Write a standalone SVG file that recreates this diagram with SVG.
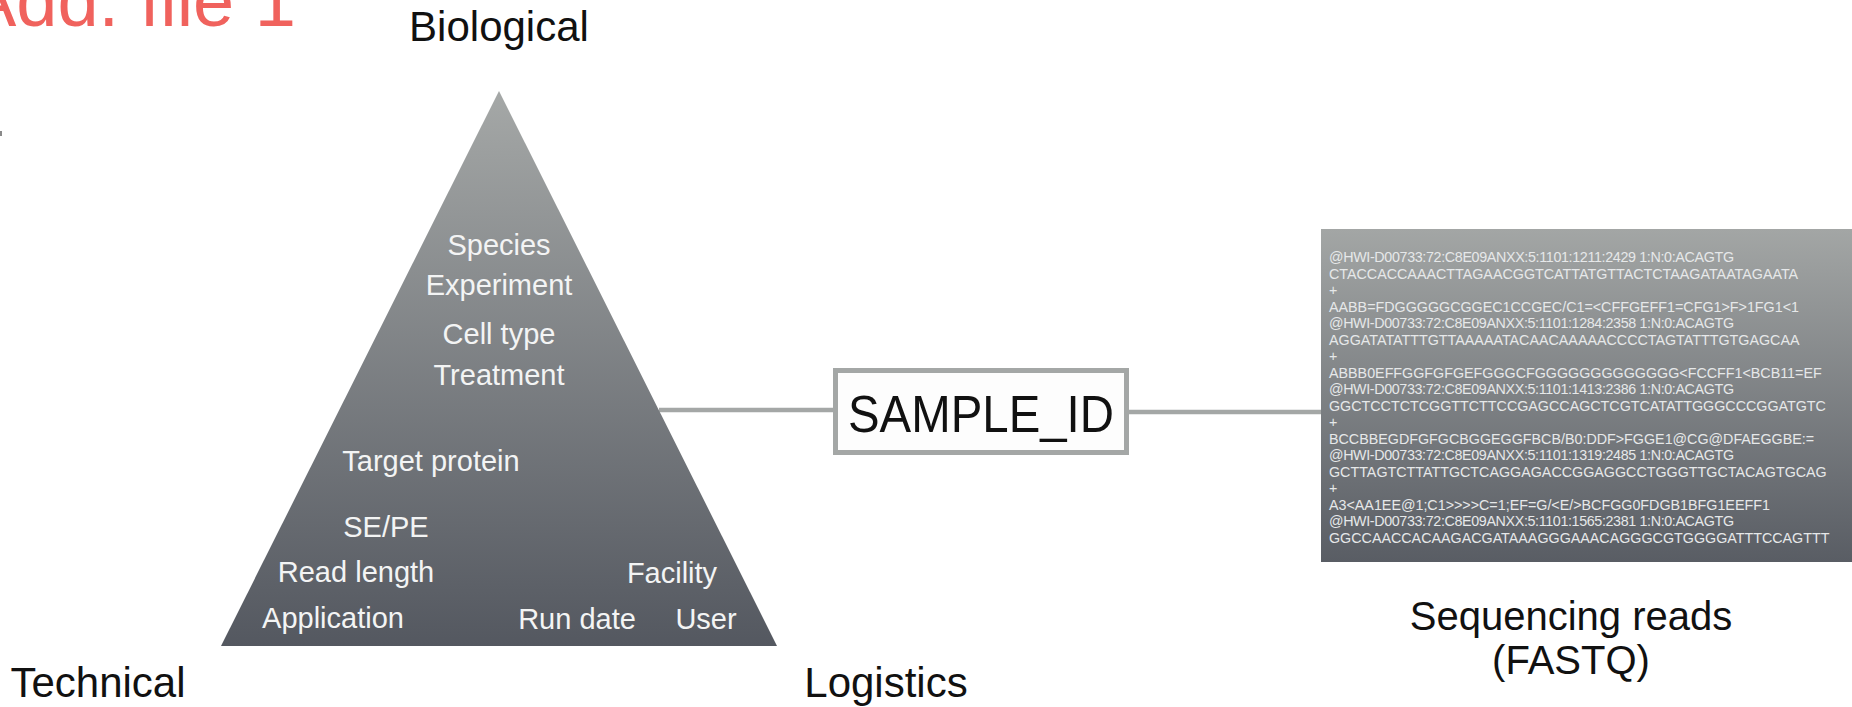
<svg xmlns="http://www.w3.org/2000/svg" width="1852" height="707" viewBox="0 0 1852 707">
<defs>
<linearGradient id="triGrad" x1="0" y1="0" x2="0" y2="1">
<stop offset="0" stop-color="#A5A8A7"/>
<stop offset="1" stop-color="#545860"/>
</linearGradient>
<linearGradient id="fqGrad" x1="0" y1="0" x2="0" y2="1">
<stop offset="0" stop-color="#A3A6A5"/>
<stop offset="1" stop-color="#595D64"/>
</linearGradient>
<style>
.lbl{font-family:"Liberation Sans",Arial,sans-serif;font-size:42px;fill:#111;}
.tri{font-family:"Liberation Sans",Arial,sans-serif;font-size:29px;fill:#F3F4F4;text-anchor:middle;}
.fq{font-family:"Liberation Sans",Arial,sans-serif;font-size:14.3px;fill:#E6E8E9;}
.conn{stroke:#A4A7A6;stroke-width:4.5;fill:none;}
</style>
</defs>
<rect width="1852" height="707" fill="#FFFFFF"/>

<g id="title">
<text x="296" y="26" text-anchor="end" font-family="Liberation Sans, Arial, sans-serif" font-size="74" fill="#F0625D">Add. file 1</text>
<rect x="0" y="131" width="2" height="5" fill="#8A8A8A"/>
</g>

<g id="connectors">
<line class="conn" x1="659" y1="410" x2="835" y2="410"/>
<line class="conn" x1="1127" y1="412" x2="1321" y2="412"/>
</g>

<g id="pyramid">
<polygon points="499,91 221,646 777,646" fill="url(#triGrad)"/>
<text class="tri" x="499" y="255">Species</text>
<text class="tri" x="499" y="295">Experiment</text>
<text class="tri" x="499" y="344">Cell type</text>
<text class="tri" x="499" y="385">Treatment</text>
<text class="tri" x="431" y="471">Target protein</text>
<text class="tri" x="386" y="537">SE/PE</text>
<text class="tri" x="356" y="582">Read length</text>
<text class="tri" x="333" y="628">Application</text>
<text class="tri" x="672" y="583">Facility</text>
<text class="tri" x="577" y="629">Run date</text>
<text class="tri" x="706" y="629">User</text>
</g>

<g id="axis-labels">
<text class="lbl" x="499" y="41" text-anchor="middle">Biological</text>
<text class="lbl" x="98" y="697" text-anchor="middle">Technical</text>
<text class="lbl" x="886" y="697" text-anchor="middle">Logistics</text>
</g>

<g id="sample_id">
<rect x="835.5" y="370.5" width="291" height="82" fill="#FDFDFD" stroke="#A4A7A6" stroke-width="5"/>
<text x="981" y="432" text-anchor="middle" font-family="Liberation Sans, Arial, sans-serif" font-size="51" fill="#111" textLength="266" lengthAdjust="spacingAndGlyphs">SAMPLE_ID</text>
</g>

<g id="fastq">
<rect x="1321" y="229" width="531" height="333" fill="url(#fqGrad)"/>
<text class="fq" x="1329" y="262" textLength="405">@HWI-D00733:72:C8E09ANXX:5:1101:1211:2429 1:N:0:ACAGTG</text>
<text class="fq" x="1329" y="278.5">CTACCACCAAACTTAGAACGGTCATTATGTTACTCTAAGATAATAGAATA</text>
<text class="fq" x="1329" y="295">+</text>
<text class="fq" x="1329" y="311.5">AABB=FDGGGGGCGGEC1CCGEC/C1=&lt;CFFGEFF1=CFG1&gt;F&gt;1FG1&lt;1</text>
<text class="fq" x="1329" y="328" textLength="405">@HWI-D00733:72:C8E09ANXX:5:1101:1284:2358 1:N:0:ACAGTG</text>
<text class="fq" x="1329" y="344.5">AGGATATATTTGTTAAAAATACAACAAAAACCCCTAGTATTTGTGAGCAA</text>
<text class="fq" x="1329" y="361">+</text>
<text class="fq" x="1329" y="377.5">ABBB0EFFGGFGFGEFGGGCFGGGGGGGGGGGGG&lt;FCCFF1&lt;BCB11=EF</text>
<text class="fq" x="1329" y="394" textLength="405">@HWI-D00733:72:C8E09ANXX:5:1101:1413:2386 1:N:0:ACAGTG</text>
<text class="fq" x="1329" y="410.5">GGCTCCTCTCGGTTCTTCCGAGCCAGCTCGTCATATTGGGCCCGGATGTC</text>
<text class="fq" x="1329" y="427">+</text>
<text class="fq" x="1329" y="443.5">BCCBBEGDFGFGCBGGEGGFBCB/B0:DDF&gt;FGGE1@CG@DFAEGGBE:=</text>
<text class="fq" x="1329" y="460" textLength="405">@HWI-D00733:72:C8E09ANXX:5:1101:1319:2485 1:N:0:ACAGTG</text>
<text class="fq" x="1329" y="476.5">GCTTAGTCTTATTGCTCAGGAGACCGGAGGCCTGGGTTGCTACAGTGCAG</text>
<text class="fq" x="1329" y="493">+</text>
<text class="fq" x="1329" y="509.5">A3&lt;AA1EE@1;C1&gt;&gt;&gt;&gt;C=1;EF=G/&lt;E/&gt;BCFGG0FDGB1BFG1EEFF1</text>
<text class="fq" x="1329" y="526" textLength="405">@HWI-D00733:72:C8E09ANXX:5:1101:1565:2381 1:N:0:ACAGTG</text>
<text class="fq" x="1329" y="542.5">GGCCAACCACAAGACGATAAAGGGAAACAGGGCGTGGGGATTTCCAGTTT</text>
<text class="lbl" x="1571" y="630" text-anchor="middle" style="font-size:40px">Sequencing reads</text>
<text class="lbl" x="1571" y="674" text-anchor="middle" style="font-size:40px">(FASTQ)</text>
</g>
</svg>
